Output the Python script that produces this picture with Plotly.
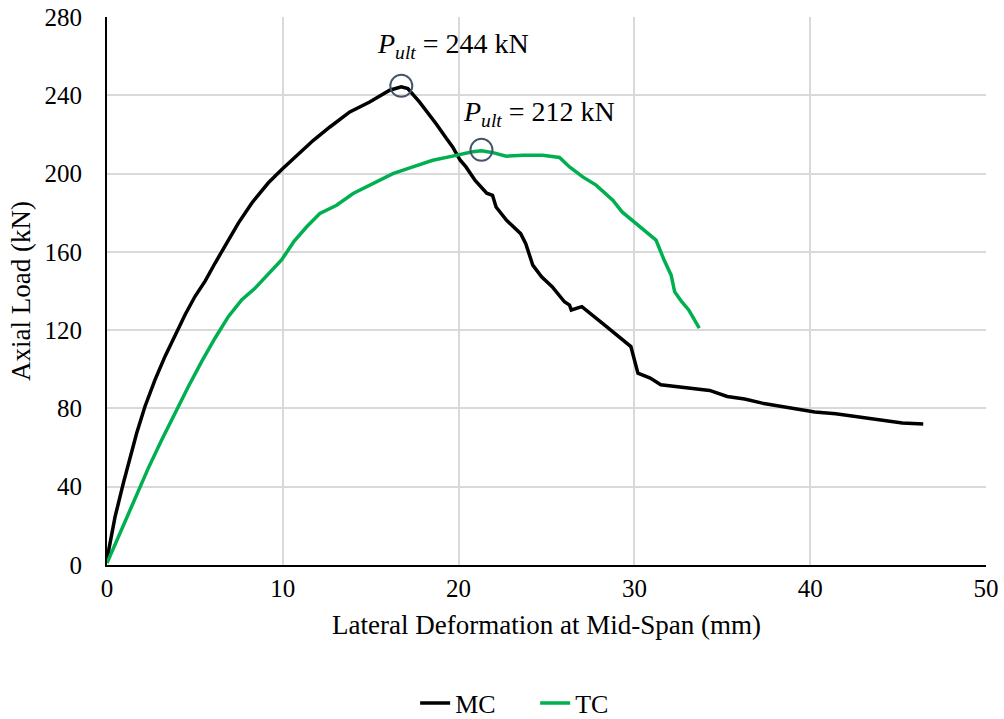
import plotly.graph_objects as go
import numpy as np

# ---- Data ----
mc_x = [0.0, 0.46, 0.93, 1.31, 1.69, 2.16, 2.73, 3.30, 3.87, 4.44, 5.01, 5.58, 6.15, 6.72,
        7.48, 8.24, 9.18, 9.94, 10.79, 11.74, 12.68, 13.81, 14.94, 16.08, 16.74, 17.11, 17.77,
        18.3, 18.72, 19.3, 19.66, 20.08, 20.42, 20.94, 21.6, 21.93, 22.13, 22.73, 23.53,
        23.82, 24.22, 24.72, 25.32, 26.02, 26.31, 26.41, 27.01, 28.31, 29.8, 30.2, 30.9, 31.5,
        32.29, 33.29, 34.28, 35.28, 36.27, 37.27, 38.27, 39.26, 40.26, 41.45, 42.25, 43.25,
        44.24, 45.24, 46.43]
mc_y = [3.0, 24.7, 41.8, 55.4, 67.4, 81.0, 94.6, 106.6, 117.7, 127.9, 137.3, 145.0, 154.3,
        162.9, 174.8, 185.0, 195.3, 202.1, 209.4, 217.0, 223.8, 231.5, 236.6, 242.6, 244.3,
        243.4, 236.6, 230.5, 225.5, 218.0, 213.6, 207.0, 203.4, 196.5, 190.0, 188.9, 182.9,
        176.1, 169.3, 164.2, 153.2, 147.3, 142.2, 134.5, 132.8, 130.3, 132.0, 122.6, 111.6,
        98.0, 95.5, 92.1, 91.2, 90.4, 89.2, 86.1, 84.8, 82.7, 81.1, 79.4, 78.2, 77.3, 76.3,
        75.1, 73.9, 72.6, 72.1]

tc_x = [0.0, 0.83, 1.59, 2.35, 3.11, 3.87, 4.63, 5.39, 6.15, 6.91, 7.67, 8.43, 9.18, 9.94,
        10.65, 11.36, 12.11, 13.06, 14.0, 15.13, 16.26, 17.4, 18.53, 19.66, 20.79, 21.3, 21.9,
        22.71, 23.66, 24.79, 25.74, 26.31, 27.06, 27.82, 28.77, 29.3, 30.09, 30.3, 31.23,
        31.69, 32.09, 32.29, 32.69, 33.09, 33.39, 33.69]
tc_y = [1.0, 17.9, 34.1, 49.5, 63.9, 77.6, 91.2, 104.0, 116.0, 127.0, 135.6, 141.5, 148.4,
        156.0, 165.5, 172.8, 179.6, 183.8, 189.8, 194.9, 200.0, 203.4, 206.8, 208.9, 211.1,
        211.6, 210.8, 208.9, 209.4, 209.4, 208.2, 203.4, 198.3, 194.1, 186.4, 180.4, 174.5,
        173.0, 166.0, 155.8, 148.1, 139.6, 134.5, 130.3, 125.2, 121.0]

series_names = ["MC", "TC"]
peak_labels = ["244", "212"]
x_title = "Lateral Deformation at Mid-Span (mm)"
y_title = "Axial Load (kN)"

FONT = "Liberation Serif"
BLACK = "#000000"
GREEN = "#00B050"
CIRCLE = "#44546A"

fig = go.Figure()
fig.add_trace(go.Scatter(x=mc_x, y=mc_y, mode="lines", name=series_names[0],
                         line=dict(color=BLACK, width=3.5)))
fig.add_trace(go.Scatter(x=tc_x, y=tc_y, mode="lines", name=series_names[1],
                         line=dict(color=GREEN, width=3.5)))

# peak markers (circles) and labels, positioned from the data maxima
offsets = [(52, 41), (58, 37)]
for xs, ys, lab, (dx, dy) in zip([mc_x, tc_x], [mc_y, tc_y], peak_labels, offsets):
    i = int(np.argmax(ys))
    px, py = xs[i], ys[i]
    fig.add_shape(type="circle", xref="x", yref="y", xsizemode="pixel", ysizemode="pixel",
                  xanchor=px, yanchor=py, x0=-11, x1=11, y0=-10, y1=12,
                  line=dict(color=CIRCLE, width=2), fillcolor="rgba(0,0,0,0)")
    fig.add_annotation(x=px, y=py, xref="x", yref="y", showarrow=False,
                       text="<i>P</i><sub><i>ult</i></sub> = " + lab + " kN",
                       xshift=dx, yshift=dy,
                       font=dict(family=FONT, size=28, color="#000000"))

fig.update_layout(
    width=1004, height=719,
    margin=dict(l=107, r=18, t=17, b=154, autoexpand=False),
    paper_bgcolor="white", plot_bgcolor="white",
    font=dict(family=FONT, size=25, color="#000000"),
    showlegend=True,
    legend=dict(orientation="h", xref="container", yref="container",
                x=0.533, xanchor="center", y=0.022, yanchor="middle",
                entrywidth=75, entrywidthmode="pixels",
                font=dict(family=FONT, size=26, color="#000000")),
)
fig.update_xaxes(range=[0, 50], dtick=10, showgrid=True, gridcolor="#D9D9D9", gridwidth=1.5,
                 zeroline=False, showline=True, linecolor="#000000", linewidth=2,
                 ticks="", automargin=False, tickfont=dict(family=FONT, size=25),
                 title=dict(text=x_title, font=dict(family=FONT, size=27), standoff=14))
fig.update_yaxes(range=[0, 280], dtick=40, showgrid=True, gridcolor="#D9D9D9", gridwidth=1.5,
                 zeroline=False, showline=True, linecolor="#000000", linewidth=2,
                 ticks="", automargin=False, ticklabelstandoff=18,
                 tickfont=dict(family=FONT, size=25),
                 title=dict(text=y_title, font=dict(family=FONT, size=27), standoff=6))

fig.write_html("out.html")
